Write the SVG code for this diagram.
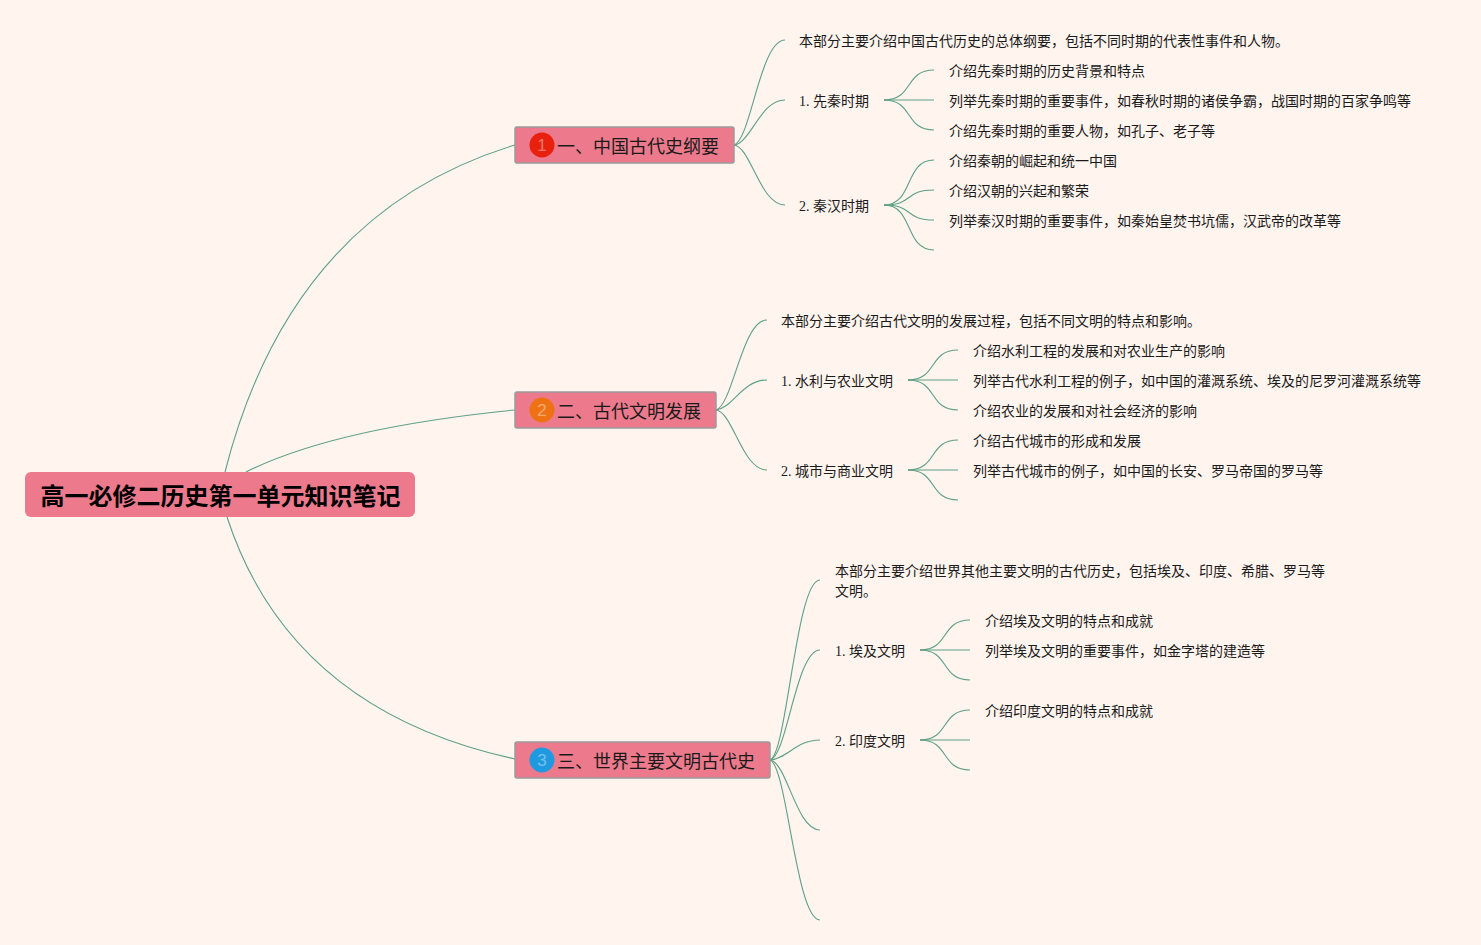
<svg xmlns="http://www.w3.org/2000/svg" width="1481" height="945" viewBox="0 0 1481 945">
<defs><style>
text{font-family:"Liberation Serif","Noto Sans CJK SC",serif;fill:#1a1a1a}
.t{font-size:14px}
.c{fill:none;stroke:#5f9f85;stroke-width:1.1}
.m{fill:#ec7a8c;stroke:#9a9a9a;stroke-width:1.5}
.h{font-size:18px}
.n{font-size:17px;fill:#fff;fill-opacity:.4;font-family:"Liberation Sans",sans-serif;text-anchor:middle}
.r{font-size:24px;font-weight:700;fill:#000}
</style></defs>
<rect width="1481" height="945" fill="#fff4ee"/>
<g id="connectors" class="c">
<path d="M225 472Q291 213 515 145"/>
<path d="M246 472Q334 428 515 410"/>
<path d="M227 517Q290 710 515 759"/>
<path d="M734 145C751 140 760 40 785 40"/><path d="M734 145C751 143 760 100 785 100"/><path d="M734 145C751 147 760 205 785 205"/>
<path d="M884 100C914 100 904 70 934 70"/><path d="M884 100H934"/><path d="M884 100C914 100 904 130 934 130"/>
<path d="M884 205C914 205 904 160 934 160"/><path d="M884 205C914 205 904 190 934 190"/><path d="M884 205C914 205 904 220 934 220"/><path d="M884 205C914 205 904 250 934 250"/>
<path d="M716 410C733 405 742 320 767 320"/><path d="M716 410C733 408 742 380 767 380"/><path d="M716 410C733 412 742 470 767 470"/>
<path d="M908 380C938 380 928 350 958 350"/><path d="M908 380H958"/><path d="M908 380C938 380 928 410 958 410"/>
<path d="M908 470C938 470 928 440 958 440"/><path d="M908 470H958"/><path d="M908 470C938 470 928 500 958 500"/>
<path d="M770 760C787 755 796 580 820 580"/><path d="M770 760C787 757 796 650 820 650"/><path d="M770 760C787 759 796 740 820 740"/><path d="M770 760C787 762 796 830 820 830"/><path d="M770 760C787 765 796 920 820 920"/>
<path d="M920 650C950 650 940 620 970 620"/><path d="M920 650H970"/><path d="M920 650C950 650 940 680 970 680"/>
<path d="M920 740C950 740 940 710 970 710"/><path d="M920 740H970"/><path d="M920 740C950 740 940 770 970 770"/>
</g>
<g id="root"><rect x="25" y="472" width="390" height="45" rx="6" fill="#ec7a8c"/><text class="r" x="40.500" y="505">高一必修二历史第一单元知识笔记</text></g>
<g id="t1"><rect class="m" x="515" y="127" width="219" height="36" rx="2"/><circle cx="542" cy="145" r="12.500" fill="#e8200e"/><text class="n" x="542" y="151">1</text><text class="h" x="557" y="153">一、中国古代史纲要</text></g>
<g id="t2"><rect class="m" x="515" y="392" width="201" height="36" rx="2"/><circle cx="542" cy="410" r="12.500" fill="#ee7214"/><text class="n" x="542" y="416">2</text><text class="h" x="557" y="418">二、古代文明发展</text></g>
<g id="t3"><rect class="m" x="515" y="742" width="255" height="36" rx="2"/><circle cx="542" cy="760" r="12.500" fill="#1f9ae0"/><text class="n" x="542" y="766">3</text><text class="h" x="557" y="768">三、世界主要文明古代史</text></g>
<g id="labels" class="t">
<text x="799" y="46">本部分主要介绍中国古代历史的总体纲要，包括不同时期的代表性事件和人物。</text>
<text x="799" y="106">1. 先秦时期</text>
<text x="949" y="76">介绍先秦时期的历史背景和特点</text>
<text x="949" y="106">列举先秦时期的重要事件，如春秋时期的诸侯争霸，战国时期的百家争鸣等</text>
<text x="949" y="136">介绍先秦时期的重要人物，如孔子、老子等</text>
<text x="799" y="211">2. 秦汉时期</text>
<text x="949" y="166">介绍秦朝的崛起和统一中国</text>
<text x="949" y="196">介绍汉朝的兴起和繁荣</text>
<text x="949" y="226">列举秦汉时期的重要事件，如秦始皇焚书坑儒，汉武帝的改革等</text>
<text x="781" y="326">本部分主要介绍古代文明的发展过程，包括不同文明的特点和影响。</text>
<text x="781" y="386">1. 水利与农业文明</text>
<text x="973" y="356">介绍水利工程的发展和对农业生产的影响</text>
<text x="973" y="386">列举古代水利工程的例子，如中国的灌溉系统、埃及的尼罗河灌溉系统等</text>
<text x="973" y="416">介绍农业的发展和对社会经济的影响</text>
<text x="781" y="476">2. 城市与商业文明</text>
<text x="973" y="446">介绍古代城市的形成和发展</text>
<text x="973" y="476">列举古代城市的例子，如中国的长安、罗马帝国的罗马等</text>
<text x="835" y="576">本部分主要介绍世界其他主要文明的古代历史，包括埃及、印度、希腊、罗马等</text>
<text x="835" y="596">文明。</text>
<text x="835" y="656">1. 埃及文明</text>
<text x="985" y="626">介绍埃及文明的特点和成就</text>
<text x="985" y="656">列举埃及文明的重要事件，如金字塔的建造等</text>
<text x="835" y="746">2. 印度文明</text>
<text x="985" y="716">介绍印度文明的特点和成就</text>
</g>
</svg>
